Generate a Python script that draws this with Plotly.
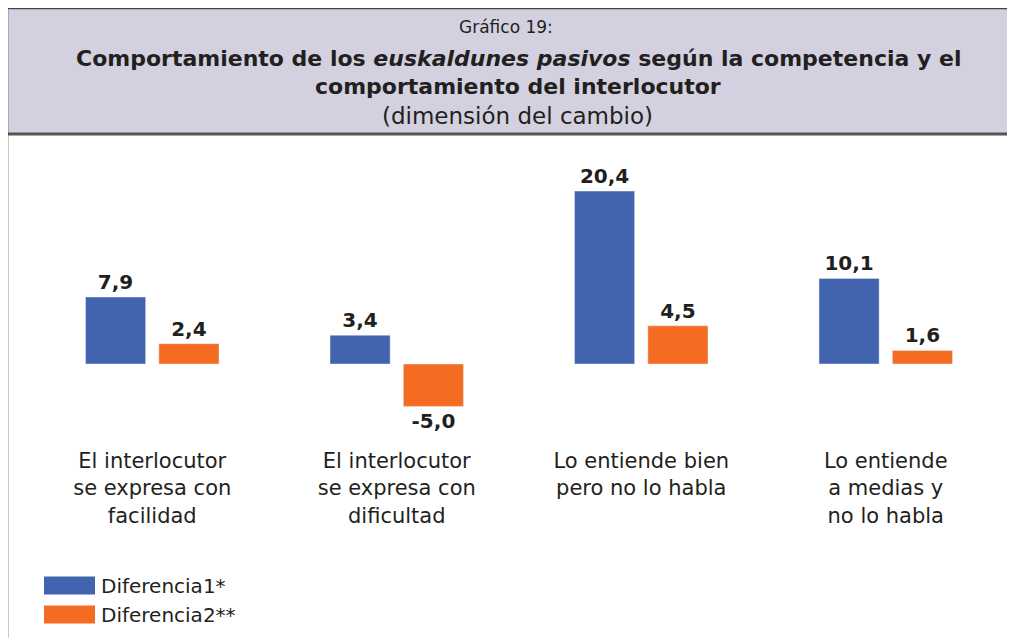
import plotly.graph_objects as go

categories = ["El interlocutor<br>se expresa con<br>facilidad",
              "El interlocutor<br>se expresa con<br>dificultad",
              "Lo entiende bien<br>pero no lo habla",
              "Lo entiende<br>a medias y<br>no lo habla"]
diferencia1 = [7.9, 3.4, 20.4, 10.1]
diferencia2 = [2.4, -5.0, 4.5, 1.6]
series_names = ["Diferencia1*", "Diferencia2**"]
colors = ["#4264ae", "#f36c21"]

FONT = "DejaVu Sans"
TXT = "#231f20"
OFF = 8  # page body margin
W, H = 1015 - OFF, 638 - OFF
L, R, T, B = 22, 7, 142, 198
ph = H - T - B


def py(p):
    # page pixel y -> paper y
    return (H - B - (p - OFF)) / ph


def px_(p):
    return (p - OFF - L) / (W - L - R)


fig = go.Figure()
for name, vals, col in zip(series_names, [diferencia1, diferencia2], colors):
    fig.add_trace(go.Bar(
        x=categories, y=vals, name=name, marker_color=col,
        texttemplate="%{y:.1f}", textposition="outside", cliponaxis=False,
        textfont=dict(family=FONT, size=20, color=TXT, weight="bold"),
        showlegend=False,
    ))

shapes = [
    # header box
    dict(type="rect", xref="paper", yref="paper", x0=px_(7), x1=px_(1040), y0=py(134), y1=py(8),
         fillcolor="#d3d1df", line=dict(width=0), layer="below"),
    dict(type="line", xref="paper", yref="paper", x0=px_(7), x1=px_(1040), y0=py(8.5), y1=py(8.5),
         line=dict(color="#444", width=1.5)),
    dict(type="line", xref="paper", yref="paper", x0=px_(7), x1=px_(1040), y0=py(134), y1=py(134),
         line=dict(color="#555", width=3)),
    dict(type="line", xref="paper", yref="paper", x0=px_(7.5), x1=px_(7.5), y0=py(8), y1=py(650),
         line=dict(color="#333", width=1.5)),
]


def note(text, x, y, size, anchor="center"):
    return dict(text=text, x=px_(x), xref="paper", y=py(y), yref="paper",
                xanchor=anchor, yanchor="middle", showarrow=False,
                font=dict(family=FONT, size=size, color=TXT))


annotations = [
    note("Gráfico 19:", 506, 27, 17),
    note("<b>Comportamiento de los <i>euskaldunes pasivos</i> según la competencia y el</b>", 518, 58, 22),
    note("<b>comportamiento del interlocutor</b>", 518, 86, 22),
    note("(dimensión del cambio)", 517, 116, 23),
]
# legend swatches
for i, (name, col) in enumerate(zip(series_names, colors)):
    yc = 585.5 + 29 * i
    shapes.append(dict(type="rect", xref="paper", yref="paper", x0=px_(44), x1=px_(95),
                       y0=py(yc + 9), y1=py(yc - 9), fillcolor=col, line=dict(width=0)))
    annotations.append(note(name, 99, yc, 20, anchor="left"))

fig.update_layout(
    width=W, height=H, margin=dict(l=L, r=R, t=T, b=B),
    paper_bgcolor="white", plot_bgcolor="white",
    barmode="group", bargap=0.40, bargroupgap=0.18,
    separators=",.",
    shapes=shapes, annotations=annotations,
    xaxis=dict(showline=False, ticks="", showgrid=False,
               tickfont=dict(family=FONT, size=21, color=TXT), ticklabelstandoff=6),
    yaxis=dict(range=[-8.96, 25.24], visible=False, zeroline=False, showgrid=False),
)
fig.write_html("out.html")
